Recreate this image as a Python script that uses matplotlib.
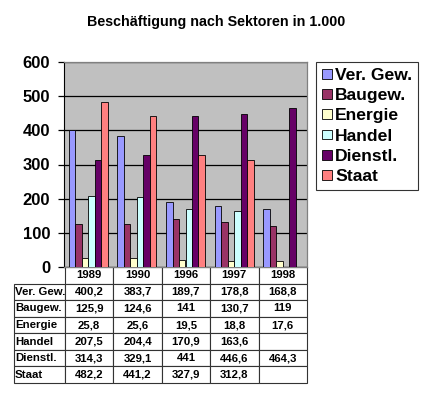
import numpy as np
import matplotlib
matplotlib.use("Agg")
import matplotlib.pyplot as plt

plt.rcParams['font.family'] = ['Liberation Sans', 'DejaVu Sans']

years = ['1989', '1990', '1996', '1997', '1998']
sectors = ['Ver. Gew.', 'Baugew.', 'Energie', 'Handel', 'Dienstl.', 'Staat']
ver_gew = [400.2, 383.7, 189.7, 178.8, 168.8]
baugew = [125.9, 124.6, 141, 130.7, 119]
energie = [25.8, 25.6, 19.5, 18.8, 17.6]
handel = [207.5, 204.4, 170.9, 163.6, np.nan]
dienstl = [314.3, 329.1, 441, 446.6, 464.3]
staat = [482.2, 441.2, 327.9, 312.8, np.nan]
colors = ['#9999FF', '#993366', '#FFFFCC', '#CCFFFF', '#660066', '#FF8080']

series = [ver_gew, baugew, energie, handel, dienstl, staat]

fig = plt.figure(figsize=(4.3, 3.94), dpi=100)
ax = fig.add_axes([64/430, 1 - 267/394, 243/430, 205/394])
ax.set_facecolor('#C0C0C0')

x = np.arange(len(years))
w = 0.8 / len(series)
for i, (name, vals, c) in enumerate(zip(sectors, series, colors)):
    ax.bar(x - 0.4 + w * (i + 0.5), vals, w, color=c, edgecolor='black',
           linewidth=0.6, label=name, zorder=3)

ax.set_xlim(-0.5, len(years) - 0.5)
ax.set_ylim(0, 600)
ax.set_yticks(range(0, 601, 100))
ax.yaxis.grid(True, color='black', linewidth=0.9, zorder=1)
ax.set_xticks([])
ax.tick_params(axis='y', length=4, width=0.9, pad=6, labelsize=12)
for lbl in ax.get_yticklabels():
    lbl.set_fontweight('bold')
ax.spines['left'].set_color('black')
for s in ['top', 'right', 'bottom']:
    ax.spines[s].set_color('#808080')
    ax.spines[s].set_linewidth(0.9)

fig.text(216/430, 1 - 22/394, 'Beschäftigung nach Sektoren in 1.000',
         ha='center', va='center', fontsize=10.3, fontweight='bold')

# data table below the plot
def fmt(v):
    if np.isnan(v):
        return ''
    s = ('%.1f' % v).replace('.', ',')
    return s[:-2] if s.endswith(',0') else s

cell_text = [[name] + [fmt(v) for v in vals] for name, vals in zip(sectors, series)]
tab = ax.table(cellText=cell_text, colLabels=[''] + years,
               colWidths=[51] + [48.5] * 5, cellLoc='center',
               bbox=[(14 - 64) / 243, -116 / 205, 293 / 243, 116 / 205])
tab.auto_set_font_size(False)
for (r, c), cell in tab.get_celld().items():
    cell.set_linewidth(0.8)
    cell.set_edgecolor('#333333')
    cell.get_text().set_fontsize(8.2)
    cell.get_text().set_fontweight('bold')
    if c == 0:
        cell.get_text().set_ha('left')
        cell.PAD = 0.02
    if r == 0 and c == 0:
        cell.visible_edges = ''

leg = fig.legend(loc='upper left', bbox_to_anchor=(316/430, 1 - 62/394),
                 prop={'size': 12.6, 'weight': 'bold'}, frameon=True,
                 fancybox=False, edgecolor='black',
                 handlelength=0.56, handleheight=0.5, handletextpad=0.2,
                 labelspacing=0.3, borderpad=0.34, borderaxespad=0)
leg.get_frame().set_linewidth(0.8)

fig.savefig('out.png', dpi=100)
